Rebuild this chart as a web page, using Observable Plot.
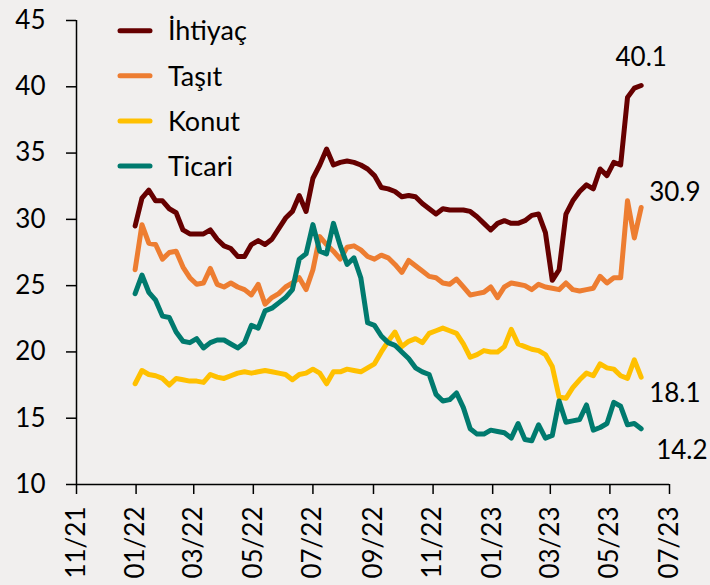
<!DOCTYPE html>
<html><head><meta charset="utf-8">
<script src="https://cdn.jsdelivr.net/npm/d3@7"></script>
<script src="https://cdn.jsdelivr.net/npm/@observablehq/plot@0.6"></script>
<style>
html,body{margin:0;padding:0;background:#f1efee;}
#chart{width:710px;height:585px;}
</style></head><body><div id="chart"></div>
<script>
const seriesNames = ["İhtiyaç", "Taşıt", "Konut", "Ticari"];
const seriesColors = ["#660000", "#ED7D31", "#FFC000", "#007A6E"];
const firstWeek = "2021-12-31";
const ihtiyac = [29.5,31.6,32.2,31.4,31.4,30.8,30.5,29.2,28.9,28.9,28.9,29.2,28.5,28.0,27.8,27.2,27.2,28.1,28.4,28.1,
  28.5,29.3,30.1,30.6,31.8,30.6,33.1,34.1,35.3,34.1,34.3,34.4,34.3,34.1,33.8,33.3,32.4,32.3,32.1,31.7,
  31.8,31.7,31.2,30.8,30.4,30.8,30.7,30.7,30.7,30.6,30.2,29.7,29.2,29.7,29.9,29.7,29.7,29.9,30.3,30.4,
  29.0,25.4,26.2,30.4,31.4,32.1,32.6,32.3,33.8,33.3,34.3,34.1,39.2,39.9,40.1];
const tasit = [26.2,29.6,28.2,28.1,27.0,27.5,27.6,26.4,25.6,25.1,25.2,26.3,25.1,24.9,25.2,24.9,24.7,24.3,25.1,23.6,
  24.1,24.4,24.9,25.2,25.6,24.7,26.2,28.7,28.1,27.6,27.0,27.9,28.0,27.7,27.2,27.0,27.3,27.1,26.6,26.0,
  26.9,26.5,26.1,25.7,25.6,25.2,25.1,25.5,24.9,24.3,24.4,24.5,24.9,24.1,24.9,25.2,25.1,25.0,24.7,25.1,
  24.9,24.8,24.7,25.2,24.7,24.6,24.7,24.8,25.7,25.2,25.6,25.6,31.4,28.6,30.9];
const konut = [17.6,18.6,18.3,18.2,18.0,17.5,18.0,17.9,17.8,17.8,17.7,18.3,18.1,18.0,18.2,18.4,18.5,18.4,18.5,18.6,
  18.5,18.4,18.3,17.9,18.3,18.4,18.7,18.4,17.6,18.5,18.5,18.7,18.6,18.5,18.8,19.1,20.0,20.8,21.5,20.4,
  20.8,21.0,20.7,21.4,21.6,21.8,21.6,21.4,20.6,19.6,19.8,20.1,20.0,20.0,20.4,21.7,20.6,20.4,20.2,20.1,
  19.8,18.9,16.6,16.5,17.3,17.9,18.4,18.2,19.1,18.8,18.7,18.2,18.0,19.4,18.1];
const ticari = [24.4,25.8,24.5,23.9,22.7,22.6,21.5,20.8,20.7,21.0,20.3,20.7,20.9,20.9,20.6,20.3,20.7,22.0,21.8,23.1,
  23.3,23.7,24.1,24.7,27.0,27.4,29.6,27.6,27.4,29.7,28.0,26.6,27.1,25.6,22.2,22.0,21.2,20.7,20.5,20.0,
  19.5,18.8,18.5,18.3,16.8,16.3,16.4,16.9,15.8,14.2,13.8,13.8,14.1,14.0,13.9,13.5,14.6,13.4,13.3,14.5,
  13.5,13.7,16.3,14.7,14.8,14.9,16.0,14.1,14.3,14.6,16.2,15.9,14.5,14.6,14.2];
const endLabels = ["40.1", "30.9", "18.1", "14.2"];
const yTicks = [10, 15, 20, 25, 30, 35, 40, 45];
const xTickDates = ["2021-11-01","2022-01-01","2022-03-01","2022-05-01","2022-07-01","2022-09-01",
  "2022-11-01","2023-01-01","2023-03-01","2023-05-01","2023-07-01"];

const allSeries = [ihtiyac, tasit, konut, ticari];
const start = new Date(firstWeek + "T00:00:00Z");
const weeks = ihtiyac.map((_, i) => d3.utcDay.offset(start, 7 * i));
const rows = [];
allSeries.forEach((vals, s) => vals.forEach((v, i) => rows.push({date: weeks[i], value: v, series: seriesNames[s]})));
const xTicks = xTickDates.map(d => new Date(d + "T00:00:00Z"));
const xDomain = [xTicks[0], xTicks[xTicks.length - 1]];
const lastPoints = allSeries.map((vals, s) => ({date: weeks[vals.length - 1], value: vals[vals.length - 1], label: endLabels[s]}));

const labelOffsets = [
  {dx: 0, dy: -28, textAnchor: "middle"},
  {dx: 8, dy: -15, textAnchor: "start"},
  {dx: 8, dy: 17, textAnchor: "start"},
  {dx: 15, dy: 22, textAnchor: "start"}
];

function legendMark(index, scales, values, dims) {
  const g = d3.create("svg:g").attr("text-anchor", "start");
  seriesNames.forEach((name, i) => {
    const y = 30.7 + i * 45.1;
    g.append("line").attr("x1", 120).attr("x2", 150).attr("y1", y).attr("y2", y)
      .attr("stroke", seriesColors[i]).attr("stroke-width", 5).attr("stroke-linecap", "round");
    g.append("text").attr("x", 168).attr("y", y).attr("dy", "0.36em")
      .attr("font-size", 27).attr("fill", "black").attr("text-anchor", "start").text(name);
  });
  return g.node();
}

const chart = Plot.plot({
  width: 710,
  height: 585,
  marginLeft: 76,
  marginRight: 41,
  marginTop: 20,
  marginBottom: 101,
  style: {fontFamily: "Lato", fontSize: "26px", color: "black", background: "#f1efee"},
  x: {type: "utc", domain: xDomain},
  y: {domain: [10, 45]},
  color: {domain: seriesNames, range: seriesColors},
  marks: [
    Plot.axisY({ticks: yTicks, tickSize: 10, tickPadding: 21, strokeWidth: 1.5, label: null}),
    Plot.axisX({ticks: xTicks, tickFormat: d3.utcFormat("%m/%y"), tickSize: 10, tickPadding: 12, tickRotate: -90, strokeWidth: 1.5, label: null}),
    Plot.ruleY([10], {stroke: "black", strokeWidth: 1.5}),
    Plot.ruleX([xDomain[0]], {y1: 10, y2: 45, stroke: "black", strokeWidth: 1.5}),
    Plot.line(rows, {x: "date", y: "value", z: "series", stroke: "series", strokeWidth: 5, strokeLinejoin: "round", strokeLinecap: "round"}),
    ...lastPoints.map((p, i) => Plot.text([p], {x: "date", y: "value", text: "label", fill: "black", fontSize: 26, ...labelOffsets[i]})),
    legendMark
  ]
});
document.getElementById("chart").appendChild(chart);
</script>
</body></html>
